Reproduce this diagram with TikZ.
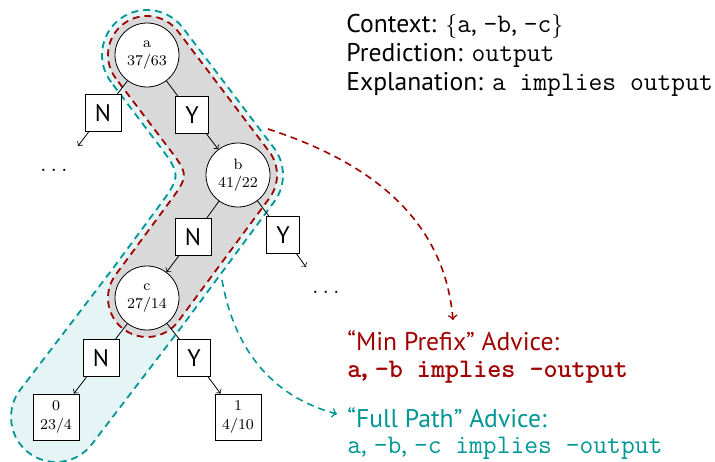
\documentclass[tikz,border=0pt]{standalone}
\usepackage{fontspec}
\setsansfont{PT Sans}
\definecolor{advred}{RGB}{160,0,0}
\definecolor{advteal}{RGB}{0,150,150}
\colorlet{tealfill}{advteal!10}
\colorlet{pathfill}{gray!30}
% typewriter snippets, set slightly larger than the surrounding sans text
\newcommand\cod[1]{{\fontsize{13.4}{15}\selectfont\ttfamily #1}}
\begin{document}
\begin{tikzpicture}[x=0.5pt,y=-0.5pt,
  inner/.style={circle, draw, fill=white, minimum size=32pt, inner sep=0pt,
    align=center, font=\fontsize{7.5}{9.3}\selectfont},
  leaf/.style={rectangle, draw, fill=white, minimum size=23pt, inner sep=0pt,
    align=center, font=\fontsize{7.5}{9.3}\selectfont},
  lab/.style={rectangle, draw, fill=white, inner sep=5pt,
    font=\sffamily\fontsize{12}{14}\selectfont},
  txt/.style={inner sep=0pt, anchor=base west,
    font=\sffamily\fontsize{12.8}{15}\selectfont},
  outline/.style={line width=0.9pt, dash pattern=on 3.5pt off 2.5pt},
  advarrow/.style={line width=0.8pt, dash pattern=on 3.5pt off 2.5pt, ->},
  tree/.style={line width=0.4pt}]
\useasboundingbox (0,0) rectangle (715,461);

% full path region: a -> b -> c -> leaf 0
\draw[outline, advteal, fill=tealfill]
  (111.14,82.19) arc[start angle=142.82, end angle=322.82, radius=45]
  -- (273.86,147.81) arc[start angle=-37.18, end angle=36.49, radius=45]
  -- (183.18,324.77) arc[start angle=36.49, end angle=37.41, radius=45]
  -- (91.75,444.34) arc[start angle=37.41, end angle=217.41, radius=45]
  -- (111.04,270.95) -- (156.80,209.10)
  .. controls (181.78,175.34) .. (156.40,141.87) -- cycle;

% minimal prefix region: a -> b -> c
\draw[outline, advred, fill=pathfill]
  (115.92,78.57) arc[start angle=142.82, end angle=322.82, radius=39]
  -- (269.08,151.43) arc[start angle=-37.18, end angle=36.49, radius=39]
  -- (178.35,321.20) arc[start angle=36.49, end angle=216.49, radius=39]
  -- (167.86,204.23)
  .. controls (189.27,175.29) .. (167.52,146.61) -- cycle;

% decision tree
\node[inner] (a) at (147,55) {a\\37/63};
\node[inner] (b) at (238,175) {b\\41/22};
\node[inner] (c) at (147,298) {c\\27/14};
\node[leaf] (l0) at (56,417) {0\\23/4};
\node[leaf] (l1) at (238,417) {1\\4/10};
\node[lab] (aN) at (103,113) {N};
\node[lab] (aY) at (192,115) {Y};
\node[lab] (bN) at (193,237) {N};
\node[lab] (bY) at (283,235) {Y};
\node[lab] (cN) at (101,358) {N};
\node[lab] (cY) at (194,358) {Y};
\coordinate (aNend) at (78,146);
\coordinate (bYend) at (306,267);
\node[font=\fontsize{12}{14}\selectfont] (dotsL) at (54,170) {$\ldots$};
\node[font=\fontsize{12}{14}\selectfont] (dotsR) at (326,292) {$\ldots$};

\draw[tree] (a) -- (aN);
\draw[tree, ->] (aN) -- (aNend);
\draw[tree] (a) -- (aY);
\draw[tree, ->] (aY) -- (b);
\draw[tree] (b) -- (bN);
\draw[tree, ->] (bN) -- (c);
\draw[tree] (b) -- (bY);
\draw[tree, ->] (bY) -- (bYend);
\draw[tree] (c) -- (cN);
\draw[tree, ->] (cN) -- (l0);
\draw[tree] (c) -- (cY);
\draw[tree, ->] (cY) -- (l1);

% context and advice texts
\node[txt] (ctx) at (346,32) {Context: $\{$\cod{a}, \cod{-b}, \cod{-c}$\}$};
\node[txt] (pred) at (346,61) {Prediction: \cod{output}};
\node[txt] (expl) at (346,90) {Explanation: \cod{a implies output}};
\node[txt, text=advred] (minA) at (347,350) {“Min Prefix” Advice:};
\node[txt, text=advred] (minB) at (347,377)
  {\cod{\bfseries a}\textbf{,} \cod{\bfseries -b implies -output}};
\node[txt, text=advteal] (fullA) at (347,427) {“Full Path” Advice:};
\node[txt, text=advteal] (fullB) at (347,453)
  {\cod{a}, \cod{-b}, \cod{-c implies -output}};

% advice pointers
\coordinate (redtail) at (268,129);
\coordinate (redhead) at (453,320);
\coordinate (tealtail) at (222,280);
\coordinate (tealhead) at (337,414);
\draw[advarrow, advred] (redtail) to[out=-18, in=95] (redhead);
\draw[advarrow, advteal] (tealtail) to[out=-80, in=165] (tealhead);
\end{tikzpicture}
\end{document}
